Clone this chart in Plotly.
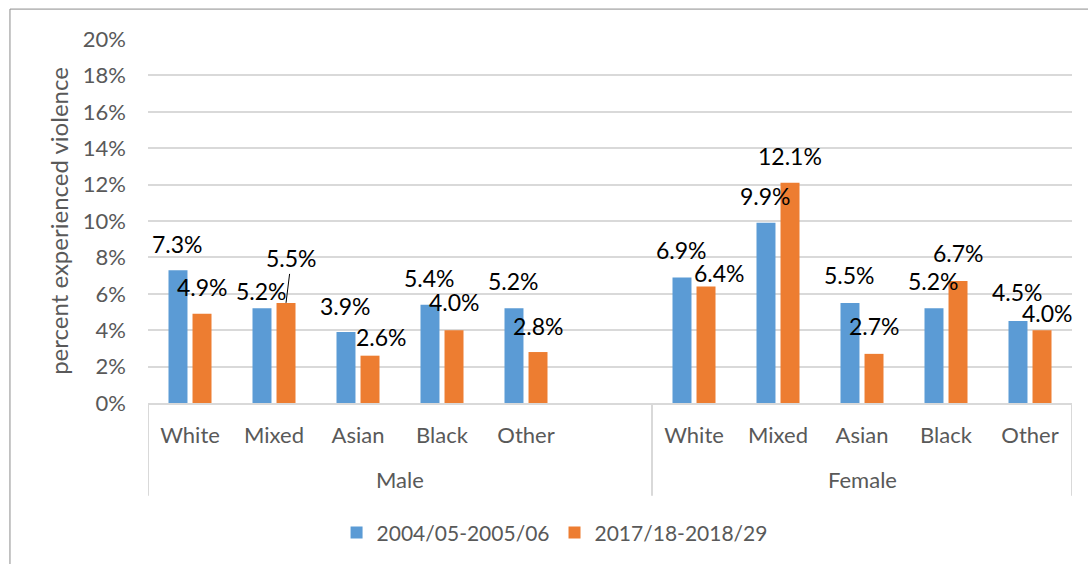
import plotly.graph_objects as go

# ---- data -------------------------------------------------------------
sex_groups = ["Male", "Female"]
ethnicity = ["White", "Mixed", "Asian", "Black", "Other", "",
             "White", "Mixed", "Asian", "Black", "Other"]
group_slots = [[0, 1, 2, 3, 4, 5], [6, 7, 8, 9, 10]]   # slots belonging to each sex
series_names = ["2004/05-2005/06", "2017/18-2018/29"]
pct_2004_06 = [7.3, 5.2, 3.9, 5.4, 5.2, None, 6.9, 9.9, 5.5, 5.2, 4.5]
pct_2017_19 = [4.9, 5.5, 2.6, 4.0, 2.8, None, 6.4, 12.1, 2.7, 6.7, 4.0]
y_tick_values = [0, 2, 4, 6, 8, 10, 12, 14, 16, 18, 20]

# ---- styling ----------------------------------------------------------
BLUE = "#5B9BD5"
ORANGE = "#ED7D31"
AXIS_TEXT = "#595959"
GRID = "#D9D9D9"
FONT = "Lato, 'Open Sans', sans-serif"

BAR_W = 0.226
BAR_OFFSETS = [-0.256, 0.030]           # left edge of each series within a slot
BAR_CENTRES = [o + BAR_W / 2 for o in BAR_OFFSETS]

# hand-placed data-label nudges (pixels, relative to the top-centre of the bar)
label_dx = [
    [0, 0, 0, 0, 0, 0, 0, 0, 0, 0, 0],
    [0, 5.5, 11.5, 0, 0, 0, 13.5, 0, 0, 0, 5.5],
]
label_dy = [
    [-26, -17, -26, -26.5, -27, 0, -27, -27, -27.5, -27, -29],
    [-26.5, -44.5, -18.5, -28, -26, 0, -14, -27, -27.5, -28.5, -17],
]
leader_line = [(1, 1)]                  # (series, slot) labels joined to their bar

slots = list(range(len(ethnicity)))

fig = go.Figure()
series_values = [pct_2004_06, pct_2017_19]
colors = [BLUE, ORANGE]
for s, (name, vals, col) in enumerate(zip(series_names, series_values, colors)):
    fig.add_trace(go.Bar(
        x=slots, y=vals, name=name,
        marker=dict(color=col, line=dict(width=0)),
        width=BAR_W, offset=BAR_OFFSETS[s],
    ))

label_font = dict(family=FONT, size=23, color="#000000")
annotations = []
for s, vals in enumerate(series_values):
    for i, v in enumerate(vals):
        if v is None:
            continue
        text = f"{v:.1f}%"
        if (s, i) in leader_line:
            annotations.append(dict(
                x=slots[i] + BAR_CENTRES[s], y=v, xref="x", yref="y", text=text,
                showarrow=True, arrowhead=0, arrowwidth=1, arrowcolor="#000000",
                ax=label_dx[s][i], ay=label_dy[s][i], standoff=0,
                font=label_font,
            ))
        else:
            annotations.append(dict(
                x=slots[i] + BAR_CENTRES[s], y=v, xref="x", yref="y", text=text,
                showarrow=False, xanchor="center", yanchor="middle",
                xshift=label_dx[s][i], yshift=-label_dy[s][i],
                font=label_font,
            ))

# second-level (sex) labels centred under their slots
GROUP_LABEL_Y = -0.211
for name, members in zip(sex_groups, group_slots):
    annotations.append(dict(
        x=(members[0] + members[-1]) / 2, y=GROUP_LABEL_Y, xref="x", yref="paper",
        text=name, showarrow=False, xanchor="center", yanchor="middle",
        font=dict(family=FONT, size=22, color=AXIS_TEXT),
    ))

shapes = []
# dividers between the sex groups, running through both label rows
divider_x = [group_slots[0][0] - 0.5] + [m[-1] + 0.5 for m in group_slots]
for dx in divider_x:
    shapes.append(dict(type="line", xref="x", yref="paper",
                       x0=dx, x1=dx, y0=0, y1=-0.255,
                       line=dict(color=GRID, width=2)))
# outer chart frame (left and top edges)
shapes.append(dict(type="path", xref="paper", yref="paper",
                   path="M -0.1494,-0.5 L -0.1494,1.0822 L 1.03,1.0822",
                   line=dict(color="#8C8C8C", width=1)))

fig.update_layout(
    width=1088, height=564,
    margin=dict(l=148, r=16, t=39, b=160),
    paper_bgcolor="white", plot_bgcolor="white",
    barmode="group",
    font=dict(family=FONT, color=AXIS_TEXT),
    showlegend=True,
    legend=dict(orientation="h", x=0.44, xanchor="center",
                y=-0.353, yanchor="middle",
                font=dict(family=FONT, size=21, color=AXIS_TEXT)),
    annotations=annotations,
    shapes=shapes,
)
fig.update_yaxes(
    range=[0, 20], tickmode="array", tickvals=y_tick_values,
    ticktext=[f"{v}%" for v in y_tick_values],
    showgrid=True, gridcolor=GRID, gridwidth=2, zeroline=False,
    showline=False, ticks="", ticklabelstandoff=21,
    tickfont=dict(family=FONT, size=22, color=AXIS_TEXT),
    title=dict(text="percent experienced violence", standoff=7,
               font=dict(family=FONT, size=24, color=AXIS_TEXT)),
)
fig.update_xaxes(
    range=[-0.5, len(slots) - 0.5],
    tickmode="array", tickvals=slots, ticktext=ethnicity,
    showline=True, linecolor=GRID, linewidth=2,
    ticks="", showgrid=False, zeroline=False, ticklabelstandoff=12,
    tickfont=dict(family=FONT, size=22, color=AXIS_TEXT),
)

fig.write_html("out.html")
